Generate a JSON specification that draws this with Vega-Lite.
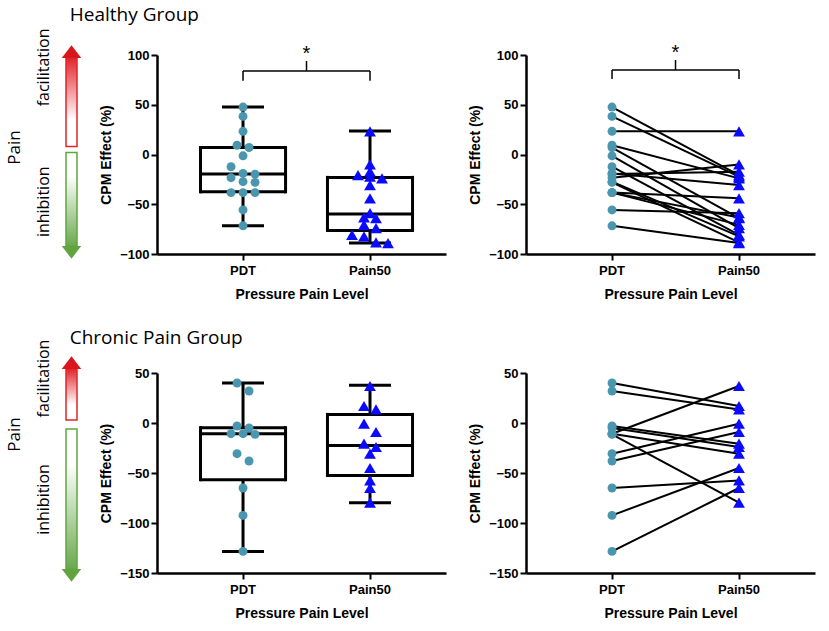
{
"$schema": "https://vega.github.io/schema/vega-lite/v6.json",
"padding": {"left": 4, "top": 6, "right": 5, "bottom": 5},
"background": "white",
"datasets": {
"hp": [
{"id":1,"level":"PDT","cpm":47.7},{"id":1,"level":"Pain50","cpm":-20.7},
{"id":2,"level":"PDT","cpm":38.3},{"id":2,"level":"Pain50","cpm":-22.3},
{"id":3,"level":"PDT","cpm":23.3},{"id":3,"level":"Pain50","cpm":23.3},
{"id":4,"level":"PDT","cpm":9.3},{"id":4,"level":"Pain50","cpm":-24},
{"id":5,"level":"PDT","cpm":7},{"id":5,"level":"Pain50","cpm":-64},
{"id":6,"level":"PDT","cpm":-1.3},{"id":6,"level":"Pain50","cpm":-74},
{"id":7,"level":"PDT","cpm":-12.3},{"id":7,"level":"Pain50","cpm":-80.7},
{"id":8,"level":"PDT","cpm":-19},{"id":8,"level":"Pain50","cpm":-30.7},
{"id":9,"level":"PDT","cpm":-19.7},{"id":9,"level":"Pain50","cpm":-17.3},
{"id":10,"level":"PDT","cpm":-23.3},{"id":10,"level":"Pain50","cpm":-10},
{"id":11,"level":"PDT","cpm":-27.3},{"id":11,"level":"Pain50","cpm":-82.3},
{"id":12,"level":"PDT","cpm":-28},{"id":12,"level":"Pain50","cpm":-88.3},
{"id":13,"level":"PDT","cpm":-38.3},{"id":13,"level":"Pain50","cpm":-44},
{"id":14,"level":"PDT","cpm":-38.3},{"id":14,"level":"Pain50","cpm":-63.3},
{"id":15,"level":"PDT","cpm":-38.3},{"id":15,"level":"Pain50","cpm":-70.7},
{"id":16,"level":"PDT","cpm":-55.7},{"id":16,"level":"Pain50","cpm":-59},
{"id":17,"level":"PDT","cpm":-71.7},{"id":17,"level":"Pain50","cpm":-89}
],
"cp": [
{"id":1,"level":"PDT","cpm":40},{"id":1,"level":"Pain50","cpm":17},
{"id":2,"level":"PDT","cpm":32},{"id":2,"level":"Pain50","cpm":13.6},
{"id":3,"level":"PDT","cpm":-3},{"id":3,"level":"Pain50","cpm":-20.7},
{"id":4,"level":"PDT","cpm":-5},{"id":4,"level":"Pain50","cpm":-24},
{"id":5,"level":"PDT","cpm":-10.7},{"id":5,"level":"Pain50","cpm":37},
{"id":6,"level":"PDT","cpm":-11.4},{"id":6,"level":"Pain50","cpm":-79.7},
{"id":7,"level":"PDT","cpm":-10.7},{"id":7,"level":"Pain50","cpm":-30.7},
{"id":8,"level":"PDT","cpm":-30.7},{"id":8,"level":"Pain50","cpm":-0.7},
{"id":9,"level":"PDT","cpm":-38},{"id":9,"level":"Pain50","cpm":-9},
{"id":10,"level":"PDT","cpm":-65},{"id":10,"level":"Pain50","cpm":-57.4},
{"id":11,"level":"PDT","cpm":-92.4},{"id":11,"level":"Pain50","cpm":-45},
{"id":12,"level":"PDT","cpm":-128.4},{"id":12,"level":"Pain50","cpm":-65}
],
"hb": [
{"level":"PDT","lo":-71.7,"q1":-37.5,"med":-19.7,"q3":7,"hi":47.7},
{"level":"Pain50","lo":-89,"q1":-76.3,"med":-59.7,"q3":-23,"hi":23.7}
],
"cb": [
{"level":"PDT","lo":-128.4,"q1":-56.7,"med":-10.7,"q3":-4.7,"hi":40},
{"level":"Pain50","lo":-79.7,"q1":-52.4,"med":-22.4,"q3":8.6,"hi":37.7}
],
"ah": [
{"dir":"facilitation","from":8,"to":97},
{"dir":"inhibition","from":2,"to":-92}
],
"ac": [
{"dir":"facilitation","from":3,"to":54},
{"dir":"inhibition","from":-6,"to":-146}
]
},
"concat": [
{
"width": 11, "height": 199,
"data": {"name": "ah"},
"layer": [
{"transform": [{"filter": "datum.dir == 'facilitation'"}],
 "mark": {"type": "rect", "stroke": "#e0262b", "strokeWidth": 1.5, "fill": {"gradient": "linear", "x1": 0, "y1": 0, "x2": 0, "y2": 1, "stops": [{"offset": 0, "color": "#e0262b"}, {"offset": 0.7, "color": "#ffffff"}, {"offset": 1, "color": "#ffffff"}]}},
 "encoding": {"y": {"field": "to", "type": "quantitative", "scale": {"domain": [-100, 100], "nice": false},
   "axis": {"values": [88, -47], "labelExpr": "datum.value > 0 ? 'facilitation' : 'inhibition'", "domain": false, "ticks": false, "tickSize": 0, "labelPadding": 15, "labelAngle": -90, "labelAlign": "center", "labelBaseline": "bottom", "labelFont": "Open Sans", "labelFontWeight": "normal", "labelFontSize": 16, "labelOverlap": false, "title": "Pain", "titleFont": "Open Sans", "titleFontWeight": "normal", "titleFontSize": 17, "titlePadding": 12, "titleY": 92}},
  "y2": {"field": "from"}}},
{"transform": [{"filter": "datum.dir == 'inhibition'"}],
 "mark": {"type": "rect", "stroke": "#5fa83c", "strokeWidth": 1.5, "fill": {"gradient": "linear", "x1": 0, "y1": 0, "x2": 0, "y2": 1, "stops": [{"offset": 0, "color": "#ffffff"}, {"offset": 0.25, "color": "#ffffff"}, {"offset": 1, "color": "#6aa84f"}]}},
 "encoding": {"y": {"field": "from", "type": "quantitative"}, "y2": {"field": "to"}}},
{"transform": [{"filter": "datum.dir == 'facilitation'"}],
 "mark": {"type": "point", "shape": "M-1,0L1,0L0,-1.3Z", "filled": true, "color": "#d8161c", "opacity": 1, "size": 380, "strokeWidth": 0},
 "encoding": {"y": {"field": "to", "type": "quantitative"}}},
{"transform": [{"filter": "datum.dir == 'inhibition'"}],
 "mark": {"type": "point", "shape": "M-1,0L1,0L0,1.3Z", "filled": true, "color": "#62a33f", "opacity": 1, "size": 380, "strokeWidth": 0},
 "encoding": {"y": {"field": "to", "type": "quantitative"}}}
]
},
{
"width": 289, "height": 199,
"title": {"text": "Healthy Group", "anchor": "start", "dx": -30, "offset": 19, "fontSize": 19},
"layer": [
{"data": {"name": "hb"}, "mark": {"type": "rule", "color": "black", "strokeWidth": 3},
 "encoding": {"x": {"field": "level", "type": "nominal", "scale": {"type": "band", "domain": ["PDT", "Pain50"], "paddingInner": 0, "paddingOuter": 0.138, "align": 0.643}, "axis": {"title": "Pressure Pain Level"}},
  "y": {"field": "lo", "type": "quantitative", "scale": {"domain": [-100, 100], "nice": false}, "axis": {"values": [-100, -50, 0, 50, 100], "title": "CPM Effect (%)"}},
  "y2": {"field": "q1"}}},
{"data": {"name": "hb"}, "mark": {"type": "rule", "color": "black", "strokeWidth": 3},
 "encoding": {"x": {"field": "level", "type": "nominal"}, "y": {"field": "q3", "type": "quantitative"}, "y2": {"field": "hi"}}},
{"data": {"name": "hb"}, "mark": {"type": "rule", "color": "black", "strokeWidth": 3, "strokeCap": "square"},
 "encoding": {"x": {"field": "level", "type": "nominal", "bandPosition": 0.165}, "y": {"field": "q1", "type": "quantitative"}, "y2": {"field": "q3"}}},
{"data": {"name": "hb"}, "mark": {"type": "rule", "color": "black", "strokeWidth": 3, "strokeCap": "square"},
 "encoding": {"x": {"field": "level", "type": "nominal", "bandPosition": 0.835}, "y": {"field": "q1", "type": "quantitative"}, "y2": {"field": "q3"}}},
{"data": {"name": "hb"}, "mark": {"type": "tick", "size": 86, "thickness": 3, "color": "black", "opacity": 1},
 "encoding": {"x": {"field": "level", "type": "nominal"}, "y": {"field": "q1", "type": "quantitative"}}},
{"data": {"name": "hb"}, "mark": {"type": "tick", "size": 86, "thickness": 3, "color": "black", "opacity": 1},
 "encoding": {"x": {"field": "level", "type": "nominal"}, "y": {"field": "q3", "type": "quantitative"}}},
{"data": {"name": "hb"}, "mark": {"type": "tick", "size": 86, "thickness": 3, "color": "black", "opacity": 1},
 "encoding": {"x": {"field": "level", "type": "nominal"}, "y": {"field": "med", "type": "quantitative"}}},
{"data": {"name": "hb"}, "mark": {"type": "tick", "size": 42, "thickness": 3, "color": "black", "opacity": 1},
 "encoding": {"x": {"field": "level", "type": "nominal"}, "y": {"field": "lo", "type": "quantitative"}}},
{"data": {"name": "hb"}, "mark": {"type": "tick", "size": 42, "thickness": 3, "color": "black", "opacity": 1},
 "encoding": {"x": {"field": "level", "type": "nominal"}, "y": {"field": "hi", "type": "quantitative"}}},
{"data": {"name": "hp"},
 "transform": [
  {"bin": {"step": 10}, "field": "cpm", "as": "cb"},
  {"window": [{"op": "row_number", "as": "rn"}, {"op": "count", "as": "cnt"}], "groupby": ["level", "cb"], "sort": [{"field": "cpm", "order": "descending"}], "frame": [null, null]},
  {"calculate": "datum.rn - (datum.cnt + 1) / 2", "as": "off"}
 ],
 "mark": {"type": "point", "filled": true, "opacity": 1},
 "encoding": {"x": {"field": "level", "type": "nominal"},
  "xOffset": {"field": "off", "type": "quantitative", "scale": {"domain": [-2, 2], "range": [39.5, 87.5]}},
  "y": {"field": "cpm", "type": "quantitative"},
  "shape": {"field": "level", "type": "nominal", "scale": {"domain": ["PDT", "Pain50"], "range": ["circle", "triangle-up"]}, "legend": null},
  "color": {"field": "level", "type": "nominal", "scale": {"domain": ["PDT", "Pain50"], "range": ["#4b96af", "#0a0aff"]}, "legend": null},
  "size": {"field": "level", "type": "ordinal", "scale": {"domain": ["PDT", "Pain50"], "range": [80, 140]}, "legend": null}}},
{"data": {"values": [{}]}, "mark": {"type": "rule", "color": "black", "strokeWidth": 1.5},
 "encoding": {"x": {"datum": "PDT", "bandPosition": 0.5}, "x2": {"datum": "Pain50", "bandPosition": 0.5}, "y": {"datum": 84}}},
{"data": {"values": [{}]}, "mark": {"type": "rule", "color": "black", "strokeWidth": 1.5},
 "encoding": {"x": {"datum": "PDT", "bandPosition": 0.5}, "y": {"datum": 74}, "y2": {"datum": 84}}},
{"data": {"values": [{}]}, "mark": {"type": "rule", "color": "black", "strokeWidth": 1.5},
 "encoding": {"x": {"datum": "Pain50", "bandPosition": 0.5}, "y": {"datum": 74}, "y2": {"datum": 84}}},
{"data": {"values": [{}]}, "mark": {"type": "rule", "color": "black", "strokeWidth": 1.5},
 "encoding": {"x": {"datum": "PDT", "bandPosition": 1}, "y": {"datum": 84}, "y2": {"datum": 94}}},
{"data": {"values": [{}]}, "mark": {"type": "text", "text": "*", "fontSize": 20, "font": "Liberation Sans", "color": "black", "baseline": "middle"},
 "encoding": {"x": {"datum": "PDT", "bandPosition": 1}, "y": {"datum": 101}}}
]
},
{
"width": 289, "height": 199,
"layer": [
{"data": {"name": "hp"}, "mark": {"type": "line", "color": "black", "strokeWidth": 2},
 "encoding": {"x": {"field": "level", "type": "nominal", "scale": {"type": "band", "domain": ["PDT", "Pain50"], "paddingInner": 0, "paddingOuter": 0.138, "align": 0.643}, "axis": {"title": "Pressure Pain Level"}},
  "y": {"field": "cpm", "type": "quantitative", "scale": {"domain": [-100, 100], "nice": false}, "axis": {"values": [-100, -50, 0, 50, 100], "title": "CPM Effect (%)"}},
  "detail": {"field": "id", "type": "nominal"}}},
{"data": {"name": "hp"}, "mark": {"type": "point", "filled": true, "opacity": 1},
 "encoding": {"x": {"field": "level", "type": "nominal"}, "y": {"field": "cpm", "type": "quantitative"},
  "shape": {"field": "level", "type": "nominal", "scale": {"domain": ["PDT", "Pain50"], "range": ["circle", "triangle-up"]}, "legend": null},
  "color": {"field": "level", "type": "nominal", "scale": {"domain": ["PDT", "Pain50"], "range": ["#4b96af", "#0a0aff"]}, "legend": null},
  "size": {"field": "level", "type": "ordinal", "scale": {"domain": ["PDT", "Pain50"], "range": [80, 140]}, "legend": null}}},
{"data": {"values": [{}]}, "mark": {"type": "rule", "color": "black", "strokeWidth": 1.5},
 "encoding": {"x": {"datum": "PDT", "bandPosition": 0.5}, "x2": {"datum": "Pain50", "bandPosition": 0.5}, "y": {"datum": 85}}},
{"data": {"values": [{}]}, "mark": {"type": "rule", "color": "black", "strokeWidth": 1.5},
 "encoding": {"x": {"datum": "PDT", "bandPosition": 0.5}, "y": {"datum": 76}, "y2": {"datum": 85}}},
{"data": {"values": [{}]}, "mark": {"type": "rule", "color": "black", "strokeWidth": 1.5},
 "encoding": {"x": {"datum": "Pain50", "bandPosition": 0.5}, "y": {"datum": 76}, "y2": {"datum": 85}}},
{"data": {"values": [{}]}, "mark": {"type": "rule", "color": "black", "strokeWidth": 1.5},
 "encoding": {"x": {"datum": "PDT", "bandPosition": 1}, "y": {"datum": 85}, "y2": {"datum": 95}}},
{"data": {"values": [{}]}, "mark": {"type": "text", "text": "*", "fontSize": 20, "font": "Liberation Sans", "color": "black", "baseline": "middle"},
 "encoding": {"x": {"datum": "PDT", "bandPosition": 1}, "y": {"datum": 102}}}
]
},
{
"width": 11, "height": 200,
"data": {"name": "ac"},
"layer": [
{"transform": [{"filter": "datum.dir == 'facilitation'"}],
 "mark": {"type": "rect", "stroke": "#e0262b", "strokeWidth": 1.5, "fill": {"gradient": "linear", "x1": 0, "y1": 0, "x2": 0, "y2": 1, "stops": [{"offset": 0, "color": "#e0262b"}, {"offset": 0.7, "color": "#ffffff"}, {"offset": 1, "color": "#ffffff"}]}},
 "encoding": {"y": {"field": "to", "type": "quantitative", "scale": {"domain": [-150, 50], "nice": false},
   "axis": {"values": [45, -76], "labelExpr": "datum.value > 0 ? 'facilitation' : 'inhibition'", "domain": false, "ticks": false, "tickSize": 0, "labelPadding": 15, "labelAngle": -90, "labelAlign": "center", "labelBaseline": "bottom", "labelFont": "Open Sans", "labelFontWeight": "normal", "labelFontSize": 16, "labelOverlap": false, "title": "Pain", "titleFont": "Open Sans", "titleFontWeight": "normal", "titleFontSize": 17, "titlePadding": 12, "titleY": 61}},
  "y2": {"field": "from"}}},
{"transform": [{"filter": "datum.dir == 'inhibition'"}],
 "mark": {"type": "rect", "stroke": "#5fa83c", "strokeWidth": 1.5, "fill": {"gradient": "linear", "x1": 0, "y1": 0, "x2": 0, "y2": 1, "stops": [{"offset": 0, "color": "#ffffff"}, {"offset": 0.25, "color": "#ffffff"}, {"offset": 1, "color": "#6aa84f"}]}},
 "encoding": {"y": {"field": "from", "type": "quantitative"}, "y2": {"field": "to"}}},
{"transform": [{"filter": "datum.dir == 'facilitation'"}],
 "mark": {"type": "point", "shape": "M-1,0L1,0L0,-1.3Z", "filled": true, "color": "#d8161c", "opacity": 1, "size": 380, "strokeWidth": 0},
 "encoding": {"y": {"field": "to", "type": "quantitative"}}},
{"transform": [{"filter": "datum.dir == 'inhibition'"}],
 "mark": {"type": "point", "shape": "M-1,0L1,0L0,1.3Z", "filled": true, "color": "#62a33f", "opacity": 1, "size": 380, "strokeWidth": 0},
 "encoding": {"y": {"field": "to", "type": "quantitative"}}}
]
},
{
"width": 289, "height": 200,
"title": {"text": "Chronic Pain Group", "anchor": "start", "dx": -30, "offset": 19, "fontSize": 19},
"layer": [
{"data": {"name": "cb"}, "mark": {"type": "rule", "color": "black", "strokeWidth": 3},
 "encoding": {"x": {"field": "level", "type": "nominal", "scale": {"type": "band", "domain": ["PDT", "Pain50"], "paddingInner": 0, "paddingOuter": 0.138, "align": 0.643}, "axis": {"title": "Pressure Pain Level"}},
  "y": {"field": "lo", "type": "quantitative", "scale": {"domain": [-150, 50], "nice": false}, "axis": {"values": [-150, -100, -50, 0, 50], "title": "CPM Effect (%)"}},
  "y2": {"field": "q1"}}},
{"data": {"name": "cb"}, "mark": {"type": "rule", "color": "black", "strokeWidth": 3},
 "encoding": {"x": {"field": "level", "type": "nominal"}, "y": {"field": "q3", "type": "quantitative"}, "y2": {"field": "hi"}}},
{"data": {"name": "cb"}, "mark": {"type": "rule", "color": "black", "strokeWidth": 3, "strokeCap": "square"},
 "encoding": {"x": {"field": "level", "type": "nominal", "bandPosition": 0.165}, "y": {"field": "q1", "type": "quantitative"}, "y2": {"field": "q3"}}},
{"data": {"name": "cb"}, "mark": {"type": "rule", "color": "black", "strokeWidth": 3, "strokeCap": "square"},
 "encoding": {"x": {"field": "level", "type": "nominal", "bandPosition": 0.835}, "y": {"field": "q1", "type": "quantitative"}, "y2": {"field": "q3"}}},
{"data": {"name": "cb"}, "mark": {"type": "tick", "size": 86, "thickness": 3, "color": "black", "opacity": 1},
 "encoding": {"x": {"field": "level", "type": "nominal"}, "y": {"field": "q1", "type": "quantitative"}}},
{"data": {"name": "cb"}, "mark": {"type": "tick", "size": 86, "thickness": 3, "color": "black", "opacity": 1},
 "encoding": {"x": {"field": "level", "type": "nominal"}, "y": {"field": "q3", "type": "quantitative"}}},
{"data": {"name": "cb"}, "mark": {"type": "tick", "size": 86, "thickness": 3, "color": "black", "opacity": 1},
 "encoding": {"x": {"field": "level", "type": "nominal"}, "y": {"field": "med", "type": "quantitative"}}},
{"data": {"name": "cb"}, "mark": {"type": "tick", "size": 42, "thickness": 3, "color": "black", "opacity": 1},
 "encoding": {"x": {"field": "level", "type": "nominal"}, "y": {"field": "lo", "type": "quantitative"}}},
{"data": {"name": "cb"}, "mark": {"type": "tick", "size": 42, "thickness": 3, "color": "black", "opacity": 1},
 "encoding": {"x": {"field": "level", "type": "nominal"}, "y": {"field": "hi", "type": "quantitative"}}},
{"data": {"name": "cp"},
 "transform": [
  {"bin": {"step": 10}, "field": "cpm", "as": "cb"},
  {"window": [{"op": "row_number", "as": "rn"}, {"op": "count", "as": "cnt"}], "groupby": ["level", "cb"], "sort": [{"field": "cpm", "order": "descending"}], "frame": [null, null]},
  {"calculate": "datum.rn - (datum.cnt + 1) / 2", "as": "off"}
 ],
 "mark": {"type": "point", "filled": true, "opacity": 1},
 "encoding": {"x": {"field": "level", "type": "nominal"},
  "xOffset": {"field": "off", "type": "quantitative", "scale": {"domain": [-2, 2], "range": [39.5, 87.5]}},
  "y": {"field": "cpm", "type": "quantitative"},
  "shape": {"field": "level", "type": "nominal", "scale": {"domain": ["PDT", "Pain50"], "range": ["circle", "triangle-up"]}, "legend": null},
  "color": {"field": "level", "type": "nominal", "scale": {"domain": ["PDT", "Pain50"], "range": ["#4b96af", "#0a0aff"]}, "legend": null},
  "size": {"field": "level", "type": "ordinal", "scale": {"domain": ["PDT", "Pain50"], "range": [80, 140]}, "legend": null}}}
]
},
{
"width": 289, "height": 200,
"layer": [
{"data": {"name": "cp"}, "mark": {"type": "line", "color": "black", "strokeWidth": 2},
 "encoding": {"x": {"field": "level", "type": "nominal", "scale": {"type": "band", "domain": ["PDT", "Pain50"], "paddingInner": 0, "paddingOuter": 0.138, "align": 0.643}, "axis": {"title": "Pressure Pain Level"}},
  "y": {"field": "cpm", "type": "quantitative", "scale": {"domain": [-150, 50], "nice": false}, "axis": {"values": [-150, -100, -50, 0, 50], "title": "CPM Effect (%)"}},
  "detail": {"field": "id", "type": "nominal"}}},
{"data": {"name": "cp"}, "mark": {"type": "point", "filled": true, "opacity": 1},
 "encoding": {"x": {"field": "level", "type": "nominal"}, "y": {"field": "cpm", "type": "quantitative"},
  "shape": {"field": "level", "type": "nominal", "scale": {"domain": ["PDT", "Pain50"], "range": ["circle", "triangle-up"]}, "legend": null},
  "color": {"field": "level", "type": "nominal", "scale": {"domain": ["PDT", "Pain50"], "range": ["#4b96af", "#0a0aff"]}, "legend": null},
  "size": {"field": "level", "type": "ordinal", "scale": {"domain": ["PDT", "Pain50"], "range": [80, 140]}, "legend": null}}}
]
}
],
"columns": 3,
"align": "each",
"bounds": "flush",
"spacing": {"column": 80, "row": 119},
"config": {
"view": {"stroke": null},
"font": "Liberation Sans",
"axis": {"domainColor": "black", "domainWidth": 2.5, "tickColor": "black", "tickWidth": 2, "tickSize": 6, "labelFont": "Liberation Sans", "labelFontWeight": "bold", "labelFontSize": 13, "labelColor": "black", "titleFont": "Liberation Sans", "titleFontWeight": "bold", "titleFontSize": 14, "titleColor": "black", "grid": false, "labelPadding": 2},
"axisX": {"labelAngle": 0, "labelPadding": 4, "titlePadding": 10},
"axisY": {"titlePadding": 6},
"title": {"font": "Open Sans", "fontWeight": "normal", "color": "black"}
}
}
